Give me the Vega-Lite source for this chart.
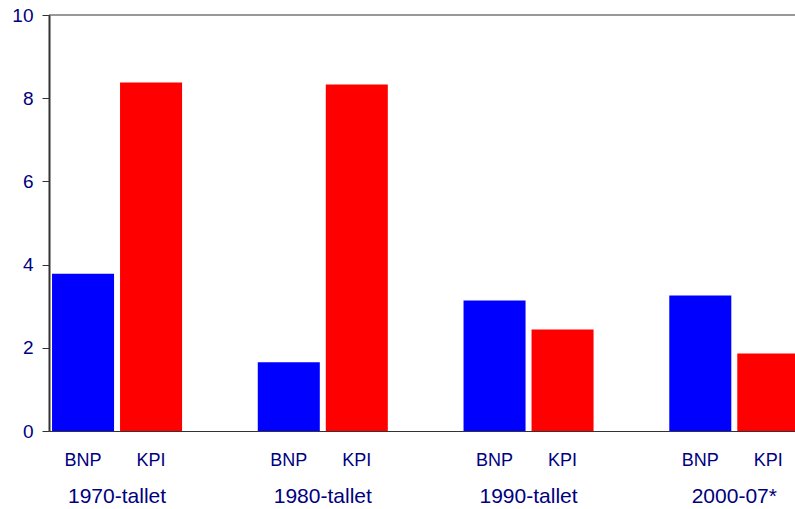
{
  "$schema": "https://vega.github.io/schema/vega-lite/v6.json",
  "width": 746,
  "height": 416,
  "autosize": {"type": "none"},
  "padding": {"left": 49, "top": 15, "right": 0, "bottom": 78},
  "background": "white",
  "data": {
    "values": [
      {"period": "1970-tallet", "series": "BNP", "value": 3.78},
      {"period": "1970-tallet", "series": "KPI", "value": 8.38},
      {"period": "1980-tallet", "series": "BNP", "value": 1.65},
      {"period": "1980-tallet", "series": "KPI", "value": 8.33},
      {"period": "1990-tallet", "series": "BNP", "value": 3.14},
      {"period": "1990-tallet", "series": "KPI", "value": 2.44},
      {"period": "2000-07*", "series": "BNP", "value": 3.26},
      {"period": "2000-07*", "series": "KPI", "value": 1.86}
    ]
  },
  "layer": [
    {
      "mark": {"type": "bar", "clip": true},
      "encoding": {
        "x": {
          "field": "period",
          "type": "nominal",
          "sort": null,
          "scale": {"type": "band", "range": [0, 823], "paddingInner": 0.368, "paddingOuter": 0.184, "align": 0.04},
          "axis": {
            "title": null,
            "ticks": false,
            "labelAngle": 0,
            "labelPadding": 71,
            "labelBaseline": "alphabetic",
            "labelFontSize": 21,
            "labelColor": "#000080",
            "domainColor": "#333333",
            "domainWidth": 1
          }
        },
        "xOffset": {
          "field": "series",
          "type": "nominal",
          "scale": {"paddingInner": 0.088, "paddingOuter": 0}
        },
        "y": {
          "field": "value",
          "type": "quantitative",
          "scale": {"domain": [0, 10], "nice": false},
          "axis": {
            "title": null,
            "values": [0, 2, 4, 6, 8, 10],
            "grid": false,
            "tickSize": 7,
            "tickColor": "#333333",
            "domainColor": "#333333",
            "domainWidth": 2,
            "labelPadding": 9,
            "labelFontSize": 19,
            "labelColor": "#000080"
          }
        },
        "color": {
          "field": "series",
          "type": "nominal",
          "scale": {"domain": ["BNP", "KPI"], "range": ["#0000FF", "#FF0000"]},
          "legend": null
        }
      }
    },
    {
      "mark": {"type": "text", "baseline": "alphabetic", "dy": 35, "fontSize": 18, "color": "#000080"},
      "encoding": {
        "x": {"field": "period", "type": "nominal", "sort": null},
        "xOffset": {"field": "series", "type": "nominal"},
        "y": {"datum": 0, "type": "quantitative"},
        "text": {"field": "series", "type": "nominal"}
      }
    },
    {
      "data": {"values": [{"top": 10}]},
      "mark": {"type": "rule", "color": "#333333", "strokeWidth": 1},
      "encoding": {
        "y": {"field": "top", "type": "quantitative"}
      }
    }
  ],
  "config": {
    "view": {"stroke": null},
    "font": "Liberation Sans"
  }
}
